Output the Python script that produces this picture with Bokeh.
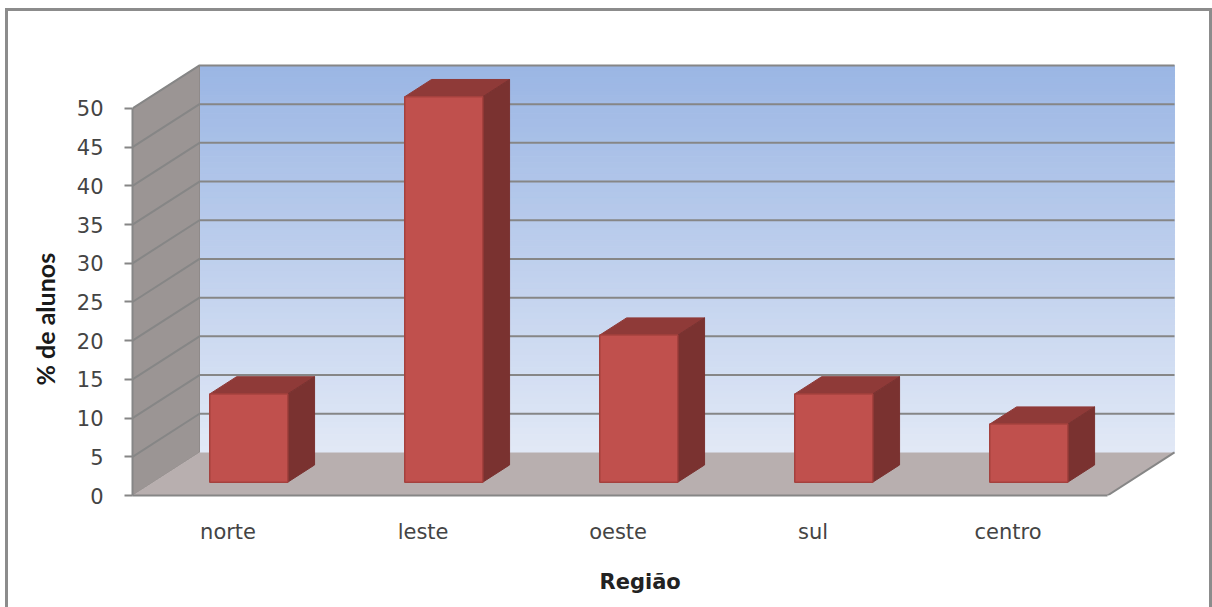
from bokeh.plotting import figure
from bokeh.embed import file_html
from bokeh.resources import INLINE
from bokeh.models import FixedTicker, Title

categories = ["norte", "leste", "oeste", "sul", "centro"]
values = [11.4, 49.8, 19.0, 11.4, 7.5]
y_ticks = [0, 5, 10, 15, 20, 25, 30, 35, 40, 45, 50]

# perspective of the 3-D box, in data units
DX, DY = 0.3436, 5.56
BAR_W = 0.40
FX, FY, FD = 0.28, 0.31, 0.40  # bar's front offset across, up, and its depth, as fractions of the box depth
n = len(categories)

GRID = "#868686"
FONT = "DejaVu Sans"

p = figure(width=1207, height=603, output_backend="svg", toolbar_location=None,
           x_range=(0, 5.364), y_range=(0, 56.2),
           min_border_left=124, min_border_right=37, min_border_top=49, min_border_bottom=119,
           margin=(8, 0, 0, 5), background_fill_color="white", border_fill_color="white",
           styles={"border-top": "3px solid #8c8c8c", "border-left": "3px solid #8c8c8c",
                   "border-right": "3px solid #8c8c8c", "box-sizing": "border-box"})
p.outline_line_color = None
p.grid.visible = False

# axes
p.yaxis.ticker = FixedTicker(ticks=y_ticks)
p.yaxis.bounds = (0, 50)
p.yaxis.axis_line_color = GRID
p.yaxis.axis_line_width = 2
p.yaxis.major_tick_line_color = GRID
p.yaxis.major_tick_line_width = 2
p.yaxis.major_tick_out = 8
p.yaxis.major_tick_in = 0
p.yaxis.minor_tick_line_color = None
p.yaxis.major_label_standoff = 21
p.yaxis.major_label_text_font = FONT
p.yaxis.major_label_text_font_size = "21px"
p.yaxis.major_label_text_color = "#444444"

p.xaxis.ticker = FixedTicker(ticks=[i + 0.49 for i in range(n)])
p.xaxis.major_label_overrides = {i + 0.49: c for i, c in enumerate(categories)}
p.xaxis.bounds = (0, n)
p.xaxis.axis_line_color = GRID
p.xaxis.axis_line_width = 2
p.xaxis.major_tick_line_color = None
p.xaxis.minor_tick_line_color = None
p.xaxis.major_label_standoff = 18
p.xaxis.major_label_text_font = FONT
p.xaxis.major_label_text_font_size = "21px"
p.xaxis.major_label_text_color = "#444444"

# back wall gradient
STEPS = 64
top_c, bot_c = (0x9B, 0xB6, 0xE4), (0xE2, 0xE9, 0xF6)
for i in range(STEPS):
    t = i / STEPS
    col = "#%02x%02x%02x" % tuple(round(a + (b - a) * t) for a, b in zip(top_c, bot_c))
    p.quad(left=DX, right=DX + n, top=DY + 50 - 50 * t, bottom=DY + 50 - 50 * (t + 1 / STEPS),
           fill_color=col, line_color=col, line_width=1)

# side wall and floor
p.patch([0, DX, DX, 0], [50, 50 + DY, DY, 0], fill_color="#9b9594", line_color="#8f8a89", line_width=1)
p.patch([0, n, n + DX, DX], [0, 0, DY, DY], fill_color="#b8afaf", line_color=None)
p.line([n, n + DX], [0, DY], line_color=GRID, line_width=2)

# gridlines: back wall and side wall
for t in y_ticks[1:]:
    p.line([0, DX, DX + n], [t, t + DY, t + DY], line_color=GRID, line_width=2)

# bars
for i, v in enumerate(values):
    c = i + 0.5
    l, r = c - BAR_W / 2 + FX * DX, c + BAR_W / 2 + FX * DX
    b = FY * DY
    t = b + v
    ddx, ddy = FD * DX, FD * DY
    p.patch([l, l + ddx, r + ddx, r], [t, t + ddy, t + ddy, t],
            fill_color="#8f3a38", line_color="#8f3a38", line_width=1)
    p.patch([r, r + ddx, r + ddx, r], [b, b + ddy, t + ddy, t],
            fill_color="#7a3230", line_color="#7a3230", line_width=1)
    p.quad(left=l, right=r, bottom=b, top=t, fill_color="#c0504d", line_color="#a5413e", line_width=1.5)

# titles
p.add_layout(Title(text="% de alunos", align="left", offset=110, standoff=27, text_font="Lato",
                   text_font_style="bold", text_font_size="25px", text_color="#1a1a1a"), "left")
p.add_layout(Title(text="Região", align="left", offset=467, standoff=42, text_font=FONT,
                   text_font_style="bold", text_font_size="21px", text_color="#222222"), "below")

open("out.html", "w").write(file_html(p, INLINE))
